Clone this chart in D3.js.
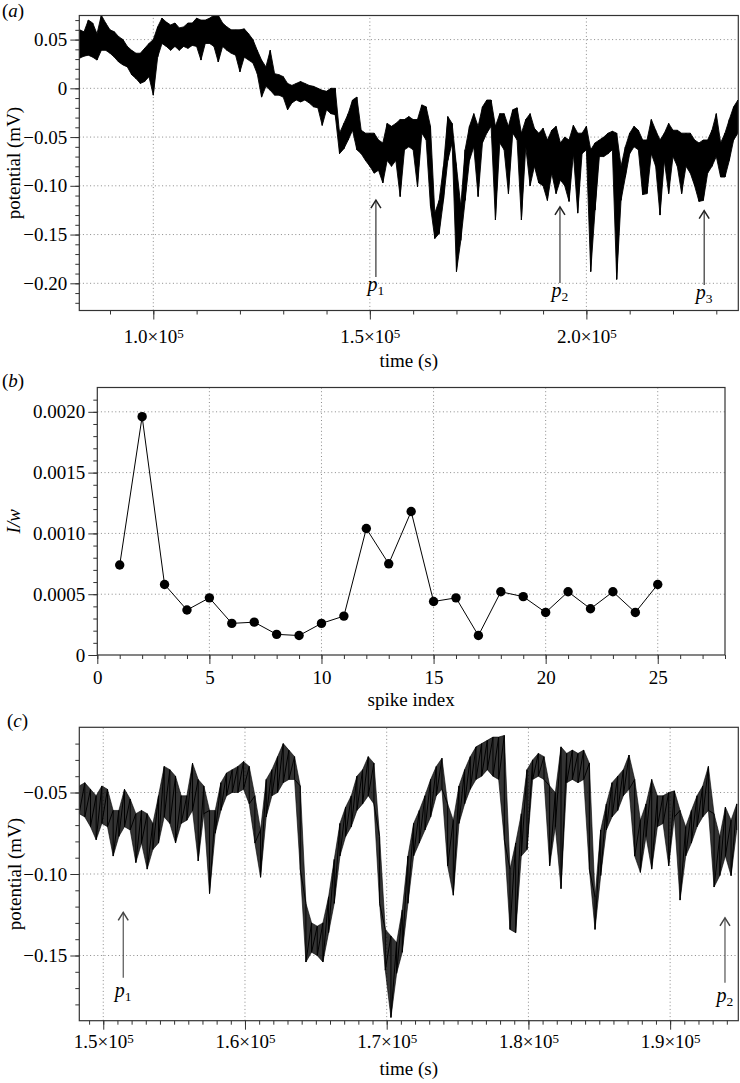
<!DOCTYPE html>
<html><head><meta charset="utf-8">
<script src="https://cdn.jsdelivr.net/npm/d3@7"></script>
<style>
body{margin:0;background:#fff;}
svg text{font-family:"Liberation Serif","Times New Roman",serif;font-size:19px;fill:#000;}
</style></head><body>
<svg id="chart" width="740" height="1083"></svg>
<script>
// ---------------- DATA ----------------
// Panel (a): envelope of the recorded potential (time in 10^3 s, potential in mV)
const timeA = [83,84,85,86,87,88,89,90,91,92,93,94,95,96,97,98,99,100,101,102,103,104,105,106,107,108,109,110,111,112,113,114,115,116,117,118,119,120,121,122,123,124,125,126,127,128,129,130,131,132,133,134,135,136,137,138,139,140,141,142,143,144,145,146,147,148,149,150,151,152,153,154,155,156,157,158,159,160,161,162,163,164,165,166,167,168,169,170,171,172,173,174,175,176,177,178,179,180,181,182,183,184,185,186,187,188,189,190,191,192,193,194,195,196,197,198,199,200,201,202,203,204,205,206,207,208,209,210,211,212,213,214,215,216,217,218,219,220,221,222,223,224,225,226,227,228,229,230,231,232,233,234,235];
const highA = [0.060,0.058,0.070,0.067,0.056,0.075,0.067,0.060,0.058,0.053,0.050,0.043,0.039,0.036,0.036,0.041,0.046,0.050,0.063,0.072,0.068,0.065,0.067,0.062,0.063,0.067,0.067,0.072,0.070,0.070,0.072,0.075,0.075,0.067,0.063,0.060,0.060,0.060,0.061,0.056,0.050,0.039,0.029,0.022,0.039,0.015,0.014,0.012,0.005,0.003,0.005,0.007,0.005,0.003,0.002,0.000,-0.002,-0.003,0.000,0.000,-0.046,-0.036,-0.026,-0.012,-0.009,-0.043,-0.046,-0.046,-0.046,-0.053,-0.056,-0.036,-0.039,-0.036,-0.032,-0.032,-0.029,-0.032,-0.032,-0.017,-0.019,-0.039,-0.128,-0.115,-0.080,-0.029,-0.036,-0.080,-0.121,-0.063,-0.039,-0.026,-0.039,-0.019,-0.012,-0.012,-0.039,-0.026,-0.026,-0.039,-0.022,-0.020,-0.046,-0.032,-0.026,-0.041,-0.046,-0.041,-0.053,-0.043,-0.039,-0.056,-0.050,-0.053,-0.038,-0.046,-0.046,-0.039,-0.063,-0.056,-0.053,-0.050,-0.046,-0.044,-0.046,-0.080,-0.060,-0.046,-0.039,-0.043,-0.053,-0.053,-0.032,-0.043,-0.053,-0.046,-0.036,-0.043,-0.043,-0.046,-0.046,-0.046,-0.053,-0.056,-0.053,-0.053,-0.043,-0.026,-0.056,-0.046,-0.032,-0.019,-0.012];
const lowA = [0.031,0.033,0.034,0.032,0.029,0.039,0.039,0.036,0.032,0.027,0.024,0.022,0.014,0.010,0.005,0.007,0.012,-0.007,0.032,0.046,0.043,0.039,0.043,0.039,0.043,0.041,0.044,0.043,0.029,0.046,0.046,0.043,0.027,0.043,0.039,0.036,0.034,0.017,0.032,0.029,0.026,0.015,-0.009,0.002,-0.002,-0.007,-0.007,-0.009,-0.022,-0.015,-0.012,-0.014,-0.012,-0.015,-0.019,-0.020,-0.038,-0.022,-0.026,-0.027,-0.067,-0.062,-0.053,-0.043,-0.063,-0.067,-0.074,-0.080,-0.087,-0.084,-0.097,-0.074,-0.080,-0.074,-0.111,-0.063,-0.060,-0.063,-0.101,-0.046,-0.053,-0.121,-0.154,-0.149,-0.115,-0.074,-0.056,-0.188,-0.156,-0.115,-0.074,-0.060,-0.111,-0.056,-0.046,-0.039,-0.135,-0.056,-0.063,-0.108,-0.046,-0.053,-0.135,-0.060,-0.100,-0.080,-0.097,-0.100,-0.115,-0.087,-0.108,-0.094,-0.100,-0.116,-0.067,-0.128,-0.067,-0.063,-0.188,-0.125,-0.070,-0.070,-0.067,-0.063,-0.196,-0.115,-0.091,-0.067,-0.060,-0.063,-0.109,-0.108,-0.067,-0.080,-0.130,-0.074,-0.108,-0.070,-0.080,-0.108,-0.080,-0.087,-0.100,-0.116,-0.115,-0.087,-0.080,-0.070,-0.091,-0.091,-0.074,-0.053,-0.046];

// Panel (b): I/w for each spike
const spikeIndex = [1,2,3,4,5,6,7,8,9,10,11,12,13,14,15,16,17,18,19,20,21,22,23,24,25];
const invWidth = [0.00074,0.00196,0.00058,0.00037,0.00047,0.00026,0.00027,0.00017,0.00016,0.00026,0.00032,0.00104,0.00075,0.00118,0.00044,0.00047,0.00016,0.00052,0.00048,0.00035,0.00052,0.00038,0.00052,0.00035,0.00058];

// Panel (c): detail of the trace (max/min per time bin, time in 10^3 s, potential in mV)
const timeC = [148.3,148.7,149.1,149.5,149.9,150.3,150.7,151.1,151.5,151.9,152.3,152.7,153.1,153.5,153.9,154.3,154.7,155.1,155.5,155.9,156.3,156.7,157.1,157.5,157.9,158.3,158.7,159.1,159.5,159.9,160.3,160.7,161.1,161.5,161.9,162.3,162.7,163.1,163.5,163.9,164.3,164.7,165.1,165.5,165.9,166.3,166.7,167.1,167.5,167.9,168.3,168.7,169.1,169.5,169.9,170.3,170.7,171.1,171.5,171.9,172.3,172.7,173.1,173.5,173.9,174.3,174.7,175.1,175.5,175.9,176.3,176.7,177.1,177.5,177.9,178.3,178.7,179.1,179.5,179.9,180.3,180.7,181.1,181.5,181.9,182.3,182.7,183.1,183.5,183.9,184.3,184.7,185.1,185.5,185.9,186.3,186.7,187.1,187.5,187.9,188.3,188.7,189.1,189.5,189.9,190.3,190.7,191.1,191.5,191.9,192.3,192.7,193.1,193.5,193.9,194.3,194.7];
const highC = [-0.046,-0.044,-0.048,-0.052,-0.046,-0.048,-0.061,-0.061,-0.048,-0.054,-0.063,-0.061,-0.063,-0.069,-0.052,-0.034,-0.036,-0.040,-0.052,-0.052,-0.032,-0.042,-0.046,-0.061,-0.061,-0.044,-0.038,-0.036,-0.034,-0.031,-0.034,-0.052,-0.073,-0.042,-0.036,-0.028,-0.020,-0.024,-0.028,-0.046,-0.118,-0.130,-0.132,-0.130,-0.114,-0.091,-0.069,-0.059,-0.052,-0.040,-0.036,-0.028,-0.032,-0.077,-0.134,-0.138,-0.142,-0.122,-0.089,-0.069,-0.061,-0.052,-0.042,-0.034,-0.029,-0.057,-0.067,-0.046,-0.036,-0.028,-0.022,-0.020,-0.018,-0.016,-0.016,-0.015,-0.097,-0.081,-0.063,-0.036,-0.030,-0.026,-0.028,-0.046,-0.050,-0.022,-0.026,-0.024,-0.026,-0.024,-0.032,-0.114,-0.073,-0.057,-0.044,-0.040,-0.036,-0.027,-0.042,-0.067,-0.057,-0.042,-0.052,-0.052,-0.050,-0.049,-0.061,-0.071,-0.061,-0.052,-0.046,-0.034,-0.063,-0.077,-0.059,-0.067,-0.057];
const lowC = [-0.063,-0.065,-0.071,-0.079,-0.069,-0.071,-0.089,-0.077,-0.071,-0.073,-0.093,-0.081,-0.097,-0.085,-0.081,-0.065,-0.069,-0.081,-0.069,-0.067,-0.061,-0.092,-0.063,-0.112,-0.075,-0.061,-0.052,-0.050,-0.050,-0.048,-0.057,-0.081,-0.102,-0.065,-0.052,-0.050,-0.044,-0.042,-0.042,-0.097,-0.154,-0.148,-0.150,-0.154,-0.136,-0.118,-0.089,-0.077,-0.071,-0.061,-0.057,-0.052,-0.057,-0.118,-0.159,-0.188,-0.161,-0.148,-0.118,-0.089,-0.081,-0.073,-0.065,-0.052,-0.048,-0.095,-0.113,-0.069,-0.057,-0.048,-0.042,-0.040,-0.036,-0.040,-0.042,-0.079,-0.134,-0.136,-0.089,-0.085,-0.042,-0.040,-0.042,-0.095,-0.071,-0.109,-0.044,-0.042,-0.044,-0.042,-0.097,-0.134,-0.101,-0.073,-0.065,-0.061,-0.052,-0.048,-0.089,-0.099,-0.077,-0.097,-0.071,-0.069,-0.095,-0.065,-0.116,-0.089,-0.081,-0.071,-0.065,-0.061,-0.108,-0.101,-0.089,-0.101,-0.073];

// Ticks and labels
const yTicksA = [0.05, 0, -0.05, -0.10, -0.15, -0.20];
const yLabelsA = ["0.05", "0", "\u22120.05", "\u22120.10", "\u22120.15", "\u22120.20"];
const xTicksA = [100, 150, 200];
const xMantA = ["1.0", "1.5", "2.0"];
const yTicksB = [0, 0.0005, 0.0010, 0.0015, 0.0020];
const yLabelsB = ["0", "0.0005", "0.0010", "0.0015", "0.0020"];
const xTicksB = [0, 5, 10, 15, 20, 25];
const xLabelsB = ["0", "5", "10", "15", "20", "25"];
const yTicksC = [-0.05, -0.10, -0.15];
const yLabelsC = ["\u22120.05", "\u22120.10", "\u22120.15"];
const xTicksC = [150, 160, 170, 180, 190];
const xMantC = ["1.5", "1.6", "1.7", "1.8", "1.9"];

// Annotation arrows (time, head value, tail value, subscript)
const arrowTimeA = [151.4, 193.9, 227.2];
const arrowHeadA = [-0.1146, -0.1217, -0.1255];
const arrowTailA = [-0.1935, -0.1997, -0.2017];
const arrowSubA = ["1", "2", "3"];
const arrowTimeC = [151.41, 193.87];
const arrowHeadC = [-0.1235, -0.1269];
const arrowTailC = [-0.1637, -0.1667];
const arrowSubC = ["1", "2"];

// ---------------- DRAWING ----------------
const svg = d3.select("#chart");
const AX = "#333";

function gridLines(g, x, y, o) {
  const [x0, x1] = x.range();
  const [yb, yt] = y.range();
  const grid = g.append("g").attr("stroke", "#8a8a8a").attr("stroke-width", 1).attr("stroke-dasharray", "1,2.6");
  grid.selectAll("line.v").data(o.xGrid).join("line").attr("class", "v")
    .attr("x1", d => x(d)).attr("x2", d => x(d)).attr("y1", yb).attr("y2", yt);
  grid.selectAll("line.h").data(o.yGrid).join("line").attr("class", "h")
    .attr("x1", x0).attr("x2", x1).attr("y1", d => y(d)).attr("y2", d => y(d));
}

function drawAxes(g, x, y, o) {
  const [x0, x1] = x.range();
  const [yb, yt] = y.range();
  const style = s => { s.select(".domain").remove(); s.selectAll("line").attr("stroke", AX).attr("stroke-width", 1); };
  g.append("g").attr("transform", `translate(0,${yb})`)
    .call(d3.axisBottom(x).tickValues(o.xMinor).tickSize(4).tickFormat("")).call(style);
  const bx = g.append("g").attr("transform", `translate(0,${yb})`)
    .call(d3.axisBottom(x).tickValues(o.xTicks).tickSize(9).tickPadding(o.xPad).tickFormat((d, i) => o.xLabels ? o.xLabels[i] : "")).call(style);
  if (o.xMant) {
    bx.selectAll(".tick text").each(function(d, i) {
      const t = d3.select(this).text(null);
      t.append("tspan").text(o.xMant[i] + "\u00d710");
      t.append("tspan").attr("dy", "-0.42em").style("font-size", "13px").text("5");
    });
  }
  g.append("g").attr("transform", `translate(${x0},0)`)
    .call(d3.axisLeft(y).tickValues(o.yMinor).tickSize(4).tickFormat("")).call(style);
  g.append("g").attr("transform", `translate(${x0},0)`)
    .call(d3.axisLeft(y).tickValues(o.yTicks).tickSize(9).tickPadding(3).tickFormat((d, i) => o.yLabels[i])).call(style);
  g.append("rect").attr("x", x0).attr("y", yt).attr("width", x1 - x0).attr("height", yb - yt)
    .attr("fill", "none").attr("stroke", AX).attr("stroke-width", 1.2);
}

function title(txt, x, y) {
  const t = svg.append("text").attr("x", x).attr("y", y);
  t.append("tspan").text("(");
  t.append("tspan").style("font-style", "italic").text(txt);
  t.append("tspan").text(")");
}

function arrows(g, x, y, times, heads, tails, subs, labOff, color) {
  times.forEach((tm, i) => {
    const px = x(tm), hy = y(heads[i]), ty = y(tails[i]);
    g.append("line").attr("x1", px).attr("x2", px).attr("y1", ty).attr("y2", hy)
      .attr("stroke", color).attr("stroke-width", 1.1);
    g.append("path").attr("d", `M${px - 5},${hy + 8}L${px},${hy}L${px + 5},${hy + 8}`)
      .attr("fill", "none").attr("stroke", color).attr("stroke-width", 1.5);
    const t = g.append("text").attr("x", px).attr("y", ty + labOff).attr("text-anchor", "middle");
    t.append("tspan").style("font-style", "italic").style("font-size", "20px").text("p");
    t.append("tspan").attr("dy", "4").style("font-size", "13.5px").text(subs[i]);
  });
}

// ----- Panel (a)
{
  const L = 79.3, R = 738.3, T = 15.5, B = 310.5;
  const x = d3.scaleLinear().domain([82.91, 235.08]).range([L, R]);
  const y = d3.scaleLinear().domain([-0.2279, 0.0747]).range([B, T]);
  const g = svg.append("g");
  gridLines(g, x, y, { xGrid: xTicksA, yGrid: yTicksA });
  svg.append("clipPath").attr("id", "clipA").append("rect").attr("x", L).attr("y", T).attr("width", R - L).attr("height", B - T);
  const area = d3.area().x((d, i) => x(timeA[i])).y0((d, i) => y(lowA[i])).y1((d, i) => y(highA[i]));
  g.append("path").datum(timeA).attr("d", area).attr("clip-path", "url(#clipA)")
    .attr("fill", "#000").attr("stroke", "#000").attr("stroke-width", 0.9).attr("stroke-linejoin", "round");
  const ptsA = [];
  timeA.forEach((t, i) => { ptsA.push([x(t), y(highA[i])]); ptsA.push([x(t), y(lowA[i])]); });
  g.append("path").attr("d", d3.line()(ptsA)).attr("clip-path", "url(#clipA)")
    .attr("fill", "none").attr("stroke", "#000").attr("stroke-width", 1);
  drawAxes(g, x, y, { xMinor: d3.range(90, 235, 10), xTicks: xTicksA, xMant: xMantA, xPad: 10,
    yMinor: d3.range(-0.22, 0.0701, 0.01), yTicks: yTicksA, yLabels: yLabelsA });
  arrows(g, x, y, arrowTimeA, arrowHeadA, arrowTailA, arrowSubA, 14, "#222");
  g.append("text").attr("x", (L + R) / 2).attr("y", 367).attr("text-anchor", "middle").text("time (s)");
  g.append("text").attr("transform", `translate(20,${(T + B) / 2}) rotate(-90)`).attr("text-anchor", "middle").text("potential (mV)");
  title("a", 2, 17);
}

// ----- Panel (b)
{
  const L = 97.3, R = 725, T = 387.5, B = 655;
  const x = d3.scaleLinear().domain([0, 28]).range([L, R]);
  const y = d3.scaleLinear().domain([0, 0.0022]).range([B, T]);
  const g = svg.append("g");
  gridLines(g, x, y, { xGrid: xTicksB.slice(1), yGrid: yTicksB.slice(1) });
  const line = d3.line().x((d, i) => x(spikeIndex[i])).y((d, i) => y(invWidth[i]));
  g.append("path").datum(invWidth).attr("d", line).attr("fill", "none").attr("stroke", "#000").attr("stroke-width", 1);
  g.selectAll("circle").data(invWidth).join("circle")
    .attr("cx", (d, i) => x(spikeIndex[i])).attr("cy", d => y(d)).attr("r", 4.7).attr("fill", "#000");
  drawAxes(g, x, y, { xMinor: d3.range(0, 28.01, 1), xTicks: xTicksB, xLabels: xLabelsB, xPad: 7,
    yMinor: d3.range(0, 0.00215, 0.0001), yTicks: yTicksB, yLabels: yLabelsB });
  g.append("text").attr("x", (L + R) / 2).attr("y", 706).attr("text-anchor", "middle").text("spike index");
  g.append("text").attr("transform", `translate(20,${(T + B) / 2}) rotate(-90)`).attr("text-anchor", "middle")
    .style("font-style", "italic").text("I/w");
  title("b", 2, 387);
}

// ----- Panel (c)
{
  const L = 79.3, R = 738.3, T = 727.3, B = 1020.7;
  const x = d3.scaleLinear().domain([148.31, 194.81]).range([L, R]);
  const y = d3.scaleLinear().domain([-0.19, -0.01]).range([B, T]);
  const g = svg.append("g");
  gridLines(g, x, y, { xGrid: xTicksC, yGrid: yTicksC });
  svg.append("clipPath").attr("id", "clipC").append("rect").attr("x", L).attr("y", T).attr("width", R - L).attr("height", B - T);
  const areaC = d3.area().x((d, i) => x(timeC[i])).y0((d, i) => y(lowC[i])).y1((d, i) => y(highC[i]));
  g.append("path").datum(timeC).attr("d", areaC).attr("clip-path", "url(#clipC)")
    .attr("fill", "#000").attr("fill-opacity", 0.8).attr("stroke", "#000").attr("stroke-width", 0.6);
  const pts = [];
  timeC.forEach((t, i) => { pts.push([x(t), y(highC[i])]); pts.push([x(t), y(lowC[i])]); });
  g.append("path").attr("d", d3.line()(pts)).attr("clip-path", "url(#clipC)")
    .attr("fill", "none").attr("stroke", "#000").attr("stroke-width", 1).attr("stroke-linejoin", "round");
  drawAxes(g, x, y, { xMinor: d3.range(149, 194.9, 1), xTicks: xTicksC, xMant: xMantC, xPad: 5,
    yMinor: d3.range(-0.18, -0.0199, 0.01), yTicks: yTicksC, yLabels: yLabelsC });
  arrows(g, x, y, arrowTimeC, arrowHeadC, arrowTailC, arrowSubC, 19, "#444");
  g.append("text").attr("x", (L + R) / 2).attr("y", 1075).attr("text-anchor", "middle").text("time (s)");
  g.append("text").attr("transform", `translate(21,${(T + B) / 2}) rotate(-90)`).attr("text-anchor", "middle").text("potential (mV)");
  title("c", 7, 727);
}
</script>
</body></html>
